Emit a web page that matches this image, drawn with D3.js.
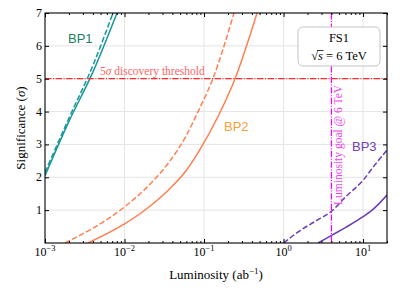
<!DOCTYPE html>
<html>
<head>
<meta charset="utf-8">
<script src="https://cdn.jsdelivr.net/npm/d3@7"></script>
<style>
body { margin: 0; background: #fff; }
text { font-family: "Liberation Serif", serif; }
</style>
</head>
<body>
<svg id="chart" width="407" height="293"></svg>
<script>
// values
var bp1Lumi = [0.001, 0.002, 0.004, 0.00805];
var bp1Sig = [2.05, 3.7, 5.2, 7.0];
var bp1LumiDash = [0.001, 0.002, 0.004, 0.00716];
var bp1SigDash = [2.15, 3.8, 5.4, 7.0];

var bp2Lumi = [0.00347, 0.01, 0.0192, 0.0373, 0.0594, 0.0891, 0.150, 0.2455, 0.4645];
var bp2Sig = [0, 0.58, 1.05, 1.66, 2.2, 2.85, 3.85, 5.0, 7.0];
var bp2LumiDash = [0.00179, 0.01, 0.0192, 0.0373, 0.0577, 0.0841, 0.129, 0.238];
var bp2SigDash = [0, 1.1, 1.7, 2.5, 3.2, 4.0, 5.0, 7.0];

var bp3Lumi = [2.72, 4.07, 6, 10, 14, 20];
var bp3Sig = [0, 0.24, 0.47, 0.8, 1.07, 1.46];
var bp3LumiDash = [1.0, 1.62, 2.5, 4.07, 6, 10, 14, 20];
var bp3SigDash = [0, 0.38, 0.66, 0.98, 1.4, 1.91, 2.37, 2.83];

var xMajor = [1e-3, 1e-2, 1e-1, 1, 10];
var xExp = ['−3', '−2', '−1', '0', '1'];
var yMajor = [1, 2, 3, 4, 5, 6, 7];
var threshold = 5;
var lumiGoal = 4;

var svg = d3.select('#chart');
var padding = {t: 13, r: 20, b: 50, l: 45};
var width = 407 - padding.l - padding.r;
var height = 293 - padding.t - padding.b;

var xScale = d3.scaleLog().domain([1e-3, 20]).range([0, width]);
var yScale = d3.scaleLinear().domain([0, 7]).range([height, 0]);

var xMinor = [];
[1e-3, 1e-2, 1e-1, 1, 10].forEach(function(d) {
    for (var k = 2; k <= 9; k++) {
        if (d * k <= 20) xMinor.push(d * k);
    }
});

var chart = svg.append('g')
    .attr('transform', 'translate(' + [padding.l, padding.t] + ')');

svg.append('defs').append('clipPath').attr('id', 'clip')
    .append('rect').attr('width', width).attr('height', height);

// grid
chart.append('g').selectAll('line')
    .data(xMajor.slice(1))
    .enter().append('line')
    .attr('x1', function(d) { return xScale(d); })
    .attr('x2', function(d) { return xScale(d); })
    .attr('y1', 0).attr('y2', height)
    .attr('stroke', '#e4e4e4').attr('stroke-width', 1);
chart.append('g').selectAll('line')
    .data(yMajor.slice(0, 6))
    .enter().append('line')
    .attr('x1', 0).attr('x2', width)
    .attr('y1', function(d) { return yScale(d); })
    .attr('y2', function(d) { return yScale(d); })
    .attr('stroke', '#e4e4e4').attr('stroke-width', 1);

// curves
var plot = chart.append('g').attr('clip-path', 'url(#clip)');
var line = d3.line()
    .x(function(d) { return xScale(d[0]); })
    .y(function(d) { return yScale(d[1]); })
    .curve(d3.curveMonotoneX);

function drawCurve(lumi, sig, color, dashed) {
    plot.append('path')
        .datum(d3.zip(lumi, sig))
        .attr('d', line)
        .attr('fill', 'none')
        .attr('stroke', color)
        .attr('stroke-width', 1.5)
        .attr('stroke-dasharray', dashed ? '5.5,2.4' : null);
}
drawCurve(bp1Lumi, bp1Sig, '#17979a', false);
drawCurve(bp1LumiDash, bp1SigDash, '#17979a', true);
drawCurve(bp2Lumi, bp2Sig, '#ff7f50', false);
drawCurve(bp2LumiDash, bp2SigDash, '#ff7f50', true);
drawCurve(bp3Lumi, bp3Sig, '#6a3db5', false);
drawCurve(bp3LumiDash, bp3SigDash, '#6a3db5', true);

// threshold and luminosity goal
plot.append('line')
    .attr('x1', 0).attr('x2', width)
    .attr('y1', yScale(threshold)).attr('y2', yScale(threshold))
    .attr('stroke', '#ff2a2a').attr('stroke-width', 1.2)
    .attr('stroke-dasharray', '6.4,1.6,1,1.6');
plot.append('line')
    .attr('x1', xScale(lumiGoal)).attr('x2', xScale(lumiGoal))
    .attr('y1', 0).attr('y2', height)
    .attr('stroke', '#ff00ff').attr('stroke-width', 1.2)
    .attr('stroke-dasharray', '6.4,1.6,1,1.6');

chart.append('text')
    .attr('x', 55).attr('y', yScale(threshold) - 3.5)
    .attr('fill', '#ff6464')
    .style('font-size', '11.5px')
    .html('5<tspan font-style="italic">σ</tspan> discovery threshold');

chart.append('text')
    .attr('transform', 'translate(' + [xScale(lumiGoal) + 11, 192] + ') rotate(-90)')
    .attr('fill', '#ee44ee')
    .style('font-size', '11.5px')
    .text('Luminosity goal @ 6 TeV');

// curve labels
function bpLabel(txt, x, y, color) {
    chart.append('text')
        .attr('x', x).attr('y', y)
        .attr('fill', color)
        .style('font-family', '"Liberation Sans", Arial, sans-serif')
        .style('font-size', '13px')
        .text(txt);
}
bpLabel('BP1', 23, 30, '#1d7f5d');
bpLabel('BP2', 179, 118, '#f6a03a');
bpLabel('BP3', 307, 138, '#7040b3');

// axes (ticks inward on all sides)
function tickAxis(axisFn, values, size, transform) {
    chart.append('g')
        .attr('transform', transform)
        .call(axisFn.tickValues(values).tickSize(size).tickSizeOuter(0).tickFormat(''))
        .call(function(g) { g.select('.domain').remove(); });
}
tickAxis(d3.axisBottom(xScale), xMajor, -4, 'translate(0,' + height + ')');
tickAxis(d3.axisBottom(xScale), xMinor, -2, 'translate(0,' + height + ')');
tickAxis(d3.axisTop(xScale), xMajor, -4, 'translate(0,0)');
tickAxis(d3.axisTop(xScale), xMinor, -2, 'translate(0,0)');
tickAxis(d3.axisLeft(yScale), yMajor, -4, 'translate(0,0)');
tickAxis(d3.axisRight(yScale), yMajor, -4, 'translate(' + width + ',0)');

chart.append('rect')
    .attr('width', width).attr('height', height)
    .attr('fill', 'none').attr('stroke', '#000').attr('stroke-width', 1.1);

// tick labels
var xl = chart.append('g').selectAll('text')
    .data(xMajor)
    .enter().append('text')
    .attr('x', function(d) { return xScale(d); })
    .attr('y', height + 13)
    .attr('text-anchor', 'middle')
    .style('font-size', '12px');
xl.append('tspan').text('10');
xl.append('tspan')
    .attr('dy', -5)
    .style('font-size', '8.5px')
    .text(function(d, i) { return xExp[i]; });

chart.append('g').selectAll('text')
    .data(yMajor)
    .enter().append('text')
    .attr('x', -3)
    .attr('y', function(d) { return yScale(d) + 4; })
    .attr('text-anchor', 'end')
    .style('font-size', '12px')
    .text(function(d) { return d; });

// axis titles
chart.append('text')
    .attr('x', width / 2 + 0).attr('y', height + 36)
    .attr('text-anchor', 'middle')
    .style('font-size', '13px')
    .html('Luminosity (ab<tspan dy="-5" font-size="9px">−1</tspan><tspan dy="5">)</tspan>');

chart.append('text')
    .attr('transform', 'translate(' + [-20, height / 2] + ') rotate(-90)')
    .attr('text-anchor', 'middle')
    .style('font-size', '13px')
    .html('Significance (<tspan font-style="italic">σ</tspan>)');

// legend box
var lg = chart.append('g').attr('transform', 'translate(' + [253, 14] + ')');
lg.append('rect')
    .attr('width', 82).attr('height', 39).attr('rx', 5)
    .attr('fill', '#fff').attr('stroke', '#c4c4c4').attr('stroke-width', 1);
lg.append('text')
    .attr('x', 41).attr('y', 15)
    .attr('text-anchor', 'middle')
    .style('font-size', '12.5px')
    .text('FS1');
var sq = lg.append('text')
    .attr('x', 41).attr('y', 33)
    .attr('text-anchor', 'middle')
    .style('font-size', '12.5px');
sq.append('tspan').text('√');
sq.append('tspan').attr('font-style', 'italic').text('s');
sq.append('tspan').text(' = 6 TeV');
var sBox = sq.node().getBBox();
var rootW = sq.node().getSubStringLength(0, 1);
var sW = sq.node().getSubStringLength(1, 1);
lg.append('line')
    .attr('x1', sBox.x + rootW - 1).attr('x2', sBox.x + rootW + sW + 0.5)
    .attr('y1', sBox.y + 1.5).attr('y2', sBox.y + 1.5)
    .attr('stroke', '#000').attr('stroke-width', 0.8);
</script>
</body>
</html>
